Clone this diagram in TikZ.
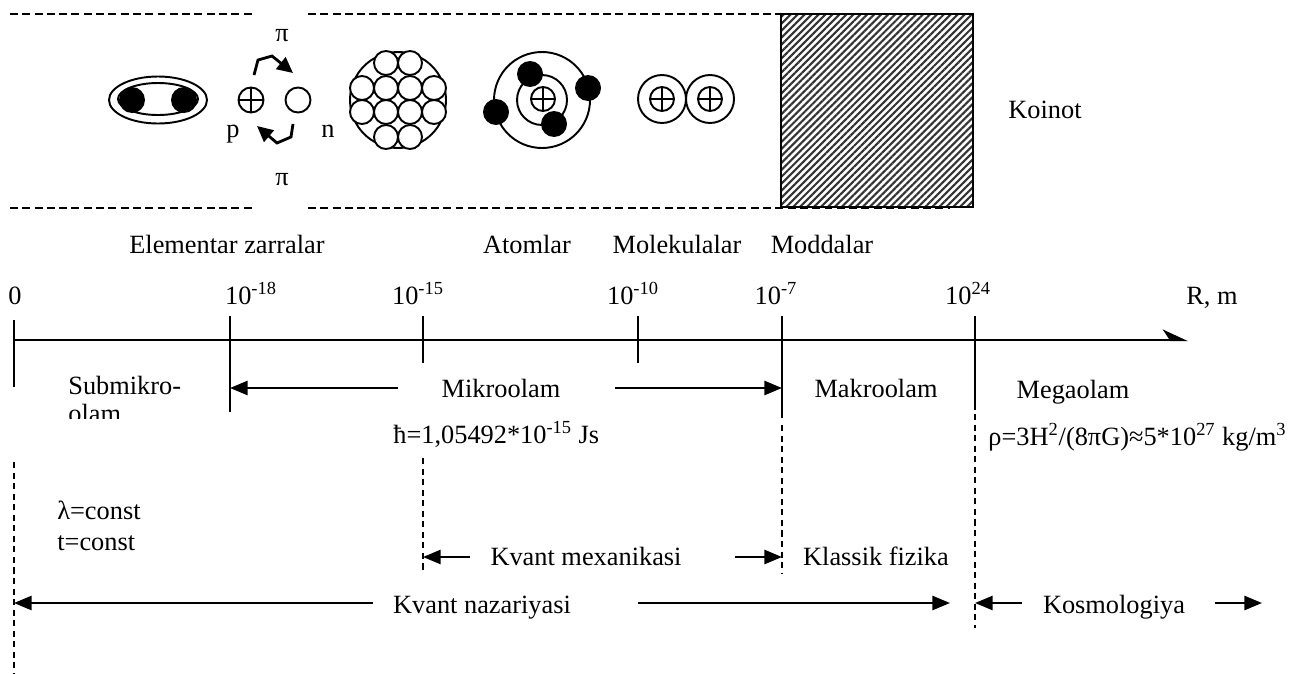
\documentclass[tikz,border=0pt]{standalone}
\usepackage{fontspec}
\setmainfont{Liberation Serif}
\usetikzlibrary{arrows.meta,patterns.meta}

\begin{document}
\begin{tikzpicture}[
  x=0.02cm, y=-0.02cm,
  lbl/.style={font=\fontsize{15}{18}\selectfont, inner sep=0pt,
    text height=10pt, text depth=3pt},
  lines/.style={font=\fontsize{15}{17.6}\selectfont, inner sep=0pt, align=left},
  shell/.style={line width=1.1pt},
  nucleon/.style={circle, draw, line width=1.1pt, minimum size=0.48cm, inner sep=0pt},
  proton/.style={nucleon, path picture={
      \draw[line width=1pt]
        (path picture bounding box.north) -- (path picture bounding box.south)
        (path picture bounding box.west) -- (path picture bounding box.east);}},
  electron/.style={circle, fill=black, minimum size=0.52cm, inner sep=0pt},
  frame/.style={line width=0.7pt, dash pattern=on 4.5pt off 2.5pt},
  guide/.style={line width=0.7pt, dash pattern=on 3.5pt off 2.5pt},
  axisline/.style={line width=1.3pt},
  tickline/.style={line width=0.9pt},
  span/.style={line width=1.3pt, -{Triangle[length=10pt,width=8pt]}},
  piarrow/.style={line width=1.6pt, -{Triangle[length=9pt,width=8.5pt]}}
]
\useasboundingbox (0,0) rectangle (1290,673);

% --- Dashed strip around the particles ---
\draw[frame] (10,14) -- (253,14) (308,14) -- (781,14);
\draw[frame] (10,208) -- (253,208) (308,208) -- (950,208);

% --- Meson: two quarks in a bag ---
\draw[shell] (158,100) ellipse[x radius=49, y radius=23.5];
\draw[shell] (158,99) ellipse[x radius=40, y radius=16];
\node[electron] (q1) at (132,100) {};
\node[electron] (q2) at (184,100) {};

% --- p and n trading pions ---
\node[proton, minimum size=0.5cm] (prot) at (251,100) {};
\node[nucleon, minimum size=0.5cm] (neut) at (298,100) {};
\node[lbl] (plab) at (233,131) {p};
\node[lbl] (nlab) at (328,131) {n};
\node[lbl] (pitop) at (282,35) {π};
\node[lbl] (pibot) at (282,179) {π};
\draw[piarrow] (254,75) -- (258,60) -- (272,56) -- (293,73);
\draw[piarrow] (293,124) -- (291,137) -- (277,143) -- (257,126);

% --- Nucleus ---
\draw[shell] (398,100) circle[radius=48];
\foreach \dx/\dy in {-12/-37, 12/-37, -36/-12, -12/-12, 12/-12, 36/-12,
                     -36/12, -12/12, 12/12, 36/12, -12/37, 12/37}
  \draw[shell, fill=white] (398+\dx,100+\dy) circle[radius=12];

% --- Atom ---
\draw[shell] (542,100) circle[radius=25] (542,100) circle[radius=48];
\node[proton] (core) at (543,99) {};
\node[electron] (e1) at (530,74) {};
\node[electron] (e2) at (554,124) {};
\node[electron] (e3) at (588,88) {};
\node[electron] (e4) at (496,112) {};

% --- Molecule ---
\draw[shell] (662,99) circle[radius=24] (710,99) circle[radius=24];
\node[proton] (m1) at (662,99) {};
\node[proton] (m2) at (710,99) {};

% --- Substance block ---
\draw[line width=1pt, pattern={Lines[angle=45, distance=2.8pt, line width=1.2pt]},
  pattern color=black!80] (781,14) rectangle (973,207);

\node[lbl] (koinot) at (1045,112) {Koinot};

% --- Group names ---
\node[lbl] (elem) at (227,247) {Elementar zarralar};
\node[lbl] (atoms) at (527,247) {Atomlar};
\node[lbl] (mols) at (677,247) {Molekulalar};
\node[lbl] (modd) at (822,247) {Moddalar};

% --- Size axis ---
\draw[axisline, -{Stealth[harpoon, length=13pt, width=12pt, inset=4pt]}]
  (14,340) -- (1188,340);
\foreach \x/\a/\b in {14/320/387, 230/316/412, 423/316/363,
                      638/316/363, 782/316/418, 975/316/410}
  \draw[tickline] (\x,\a) -- (\x,\b);

\node[lbl] (r0) at (15,298) {0};
\node[lbl] (r18) at (251,298) {10\textsuperscript{-18}};
\node[lbl] (r15) at (418,298) {10\textsuperscript{-15}};
\node[lbl] (r10) at (633,298) {10\textsuperscript{-10}};
\node[lbl] (r7) at (776,298) {10\textsuperscript{-7}};
\node[lbl] (r24) at (968,298) {10\textsuperscript{24}};
\node[lbl] (rm) at (1212,298) {R, m};

% --- Worlds ---
\begin{scope}
  \clip (40,350) rectangle (220,418);
  \node[lines, anchor=north west, font=\fontsize{15}{15.9}\selectfont]
    (submikro) at (68,376) {Submikro-\\olam};
\end{scope}
\node[lbl] (mikro) at (501,391) {Mikroolam};
\node[lbl] (makro) at (876,391) {Makroolam};
\node[lbl] (mega) at (1073,392) {Megaolam};

\coordinate (mikroL) at (398,388);
\coordinate (mikroR) at (615,388);
\coordinate (t18) at (230,388);
\coordinate (t7) at (782,388);
\draw[span] (mikroL) -- (t18);
\draw[span] (mikroR) -- (t7);

\node[lbl, anchor=west] (hbar) at (393,437) {ħ=1,05492*10\textsuperscript{-15} Js};
\node[lbl, anchor=west] (rho) at (988,439)
  {ρ=3H\textsuperscript{2}/(8πG)≈5*10\textsuperscript{27} kg/m\textsuperscript{3}};

% dashed guides under the ticks
\draw[guide] (14,462) -- (14,673);
\draw[guide] (423,458) -- (423,573);
\draw[guide] (782,425) -- (782,573);
\draw[guide] (975,414) -- (975,628);

\node[lines, anchor=north west] (consts) at (57,501) {λ=const\\t=const};

% --- Theories ---
\node[lbl] (kmex) at (586,559) {Kvant mexanikasi};
\node[lbl] (klas) at (876,559) {Klassik fizika};
\node[lbl] (knaz) at (482,607) {Kvant nazariyasi};
\node[lbl] (kosm) at (1114,607) {Kosmologiya};

\coordinate (kmexL) at (470,557);
\coordinate (kmexR) at (735,557);
\coordinate (g15) at (423,557);
\coordinate (g7) at (782,557);
\draw[span] (kmexL) -- (g15);
\draw[span] (kmexR) -- (g7);

\coordinate (knazL) at (373,603);
\coordinate (knazR) at (638,603);
\coordinate (g0) at (14,603);
\coordinate (g24a) at (950,603);
\draw[span] (knazL) -- (g0);
\draw[span] (knazR) -- (g24a);

\coordinate (kosmL) at (1022,603);
\coordinate (kosmR) at (1215,603);
\coordinate (g24) at (975,603);
\coordinate (kosmE) at (1262,603);
\draw[span] (kosmL) -- (g24);
\draw[span] (kosmR) -- (kosmE);

\end{tikzpicture}
\end{document}
